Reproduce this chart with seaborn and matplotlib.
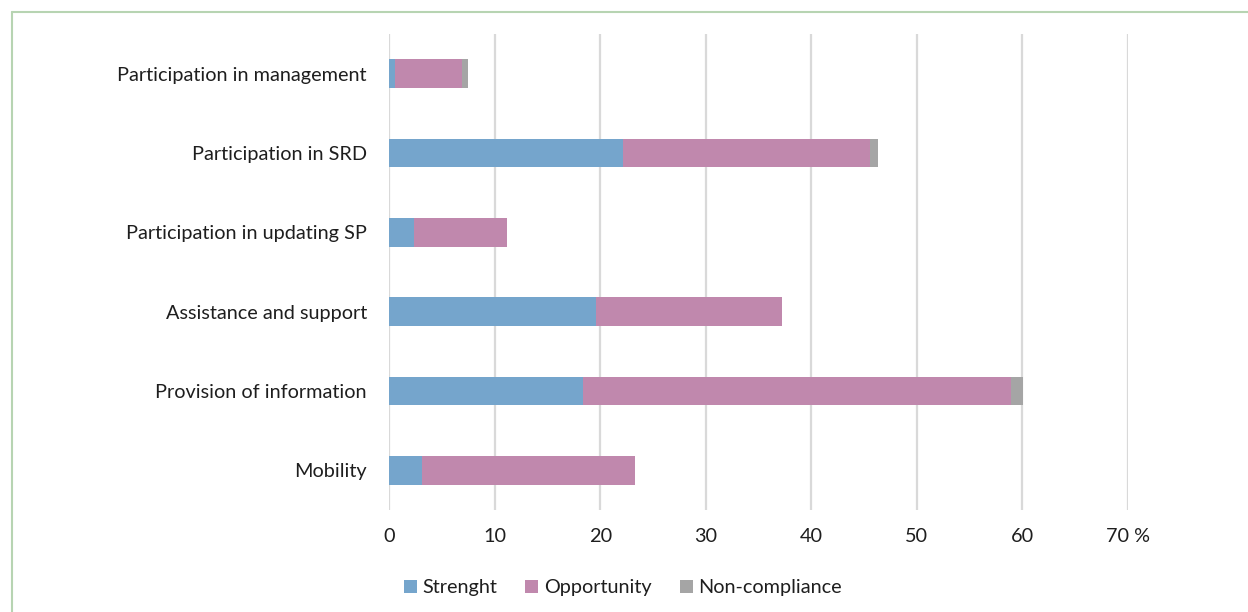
import matplotlib
matplotlib.use("Agg")
import matplotlib.pyplot as plt
import seaborn as sns
import pandas as pd
from matplotlib.lines import Line2D
from matplotlib.patches import Patch

categories = [
    "Participation in management",
    "Participation in SRD",
    "Participation in updating SP",
    "Assistance and support",
    "Provision of information",
    "Mobility",
]
strength = [0.6, 22.2, 2.4, 19.6, 18.4, 3.1]
opportunity = [6.3, 23.4, 8.8, 17.6, 40.5, 20.2]
non_compliance = [0.6, 0.7, 0.0, 0.0, 1.2, 0.0]
series_names = ["Strenght", "Opportunity", "Non-compliance"]
tick_values = [0, 10, 20, 30, 40, 50, 60, 70]
tick_labels = ["0", "10", "20", "30", "40", "50", "60", "70 %"]

colors = ["#75a5cc", "#c088ad", "#a5a5a5"]
text_color = "#1e1e1e"
fs = 14.3

sns.set_theme(style="white")
plt.rcParams["font.family"] = ["Lato", "DejaVu Sans"]

df = pd.DataFrame({
    "category": categories,
    "s": strength,
    "o": opportunity,
    "n": non_compliance,
})
df["cum_so"] = df["s"] + df["o"]
df["cum_all"] = df["cum_so"] + df["n"]

fig = plt.figure(figsize=(12.48, 6.12), dpi=100)
ax = fig.add_axes([389 / 1248, 1 - 510 / 612, (1128 - 389) / 1248, (510 - 34) / 612])

# stacked bars: draw cumulative totals back to front
for col, c in zip(["cum_all", "cum_so", "s"], colors[::-1]):
    sns.barplot(data=df, x=col, y="category", order=categories, color=c,
                width=0.36, orient="h", ax=ax, saturation=1, linewidth=0,
                zorder=3)

ax.set_xlim(0, 70)
ax.set_xticks(tick_values)
ax.set_xticklabels(tick_labels, fontsize=fs, color=text_color)
ax.tick_params(axis="y", labelsize=fs, colors=text_color, length=0, pad=16)
ax.tick_params(axis="x", length=0, pad=13)
ax.set_xlabel("")
ax.set_ylabel("")
for s in ax.spines.values():
    s.set_visible(False)
ax.grid(axis="x", color="#d9d9d9", linewidth=1.6, zorder=0)
ax.set_axisbelow(True)

handles = [Patch(facecolor=c, edgecolor="none") for c in colors]
fig.legend(handles, series_names, loc="center", bbox_to_anchor=(623 / 1248, 1 - 588 / 612),
           ncol=3, frameon=False, fontsize=fs, handlelength=0.65, handleheight=0.65,
           handletextpad=0.3, columnspacing=1.4,
           labelcolor=text_color)

# outer frame on the top and left edges
fig.add_artist(Line2D([11.5 / 1248, 11.5 / 1248], [0, 1 - 11.5 / 612], color="#b7d4b2", linewidth=1.5))
fig.add_artist(Line2D([11.5 / 1248, 1], [1 - 11.5 / 612, 1 - 11.5 / 612], color="#b7d4b2", linewidth=1.5))

fig.savefig("out.png", dpi=100)
